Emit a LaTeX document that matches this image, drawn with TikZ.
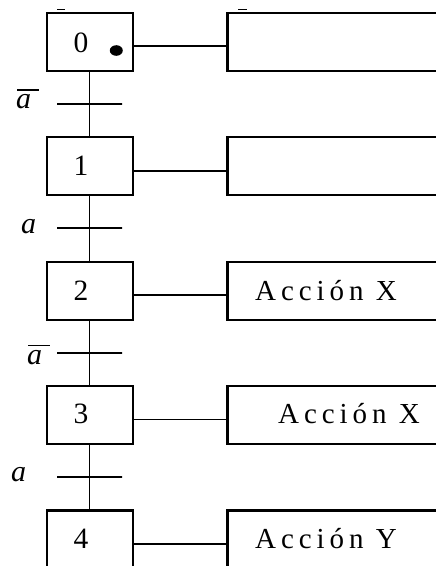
\documentclass[tikz,border=0pt]{standalone}
\usepackage{fontspec}
\setmainfont{Liberation Serif}
\newfontfamily\spacedfont[LetterSpace=17]{Liberation Serif}
\begin{document}
\begin{tikzpicture}[x=1pt,y=-1pt,
  stepbox/.style={draw,line width=2.2pt,minimum width=85.5pt,minimum height=58pt,inner sep=0pt},
  actbox/.style={draw,line width=2.2pt,minimum width=218pt,minimum height=58pt,inner sep=0pt},
  bar/.style={draw,line width=1.8pt,minimum width=65pt,minimum height=0pt,inner sep=0pt},
  num/.style={font=\fontsize{29.5}{32}\selectfont,inner sep=0pt,anchor=base},
  cond/.style={font=\fontsize{30}{32}\selectfont\itshape,inner sep=0pt,anchor=base west},
  act/.style={font=\fontsize{29}{32}\selectfont\spacedfont,inner sep=0pt,anchor=base west},
  link/.style={line width=1.8pt},
  ovl/.style={line width=1.3pt}]
\useasboundingbox (0,0) rectangle (436,566);
\clip (0,0) rectangle (436,566);
% steps
\node[stepbox] (s0) at (90,41.8) {};
\node[stepbox] (s1) at (90,166.2) {};
\node[stepbox] (s2) at (90,290.6) {};
\node[stepbox] (s3) at (90,415) {};
\node[stepbox] (s4) at (90,539.4) {};
% step numbers
\node[num] (n0) at (81,52.3) {0};
\node[num] (n1) at (81,175.3) {1};
\node[num] (n2) at (81,300.7) {2};
\node[num] (n3) at (81,423.3) {3};
\node[num] (n4) at (81,548.3) {4};
% initial mark
\fill (116.3,50.5) ellipse [x radius=6.5pt,y radius=5.3pt];
% actions
\node[actbox] (a0) at (336.5,41.8) {};
\node[actbox] (a1) at (336.5,166.2) {};
\node[actbox] (a2) at (336.5,290.6) {};
\node[actbox] (a3) at (336.5,415) {};
\node[actbox] (a4) at (336.5,539.4) {};
\node[act] (x2) at (255,300) {Acción X};
\node[act] (x3) at (278,423.3) {Acción X};
\node[act] (x4) at (255,548.3) {Acción Y};
% step-action links
\foreach \i in {0,...,4} {
  \draw[link] ([yshift=-4.5pt]s\i.east) -- ([yshift=-4.5pt]s\i.east -| a\i.west);
}
% transitions
\node[bar] (t1) at (89.5,104.3) {};
\node[bar] (t2) at (89.5,228.3) {};
\node[bar] (t3) at (89.5,352.7) {};
\node[bar] (t4) at (89.5,476.7) {};
\draw[link] (s0.south -| t1) -- (t1) -- (s1.north -| t1);
\draw[link] (s1.south -| t2) -- (t2) -- (s2.north -| t2);
\draw[link] (s2.south -| t3) -- (t3) -- (s3.north -| t3);
\draw[link] (s3.south -| t4) -- (t4) -- (s4.north -| t4);
% conditions
\node[cond] (c1) at (16,108.3) {a};
\node[cond] (c2) at (21,233.3) {a};
\node[cond] (c3) at (27,364.3) {a};
\node[cond] (c4) at (11,481.7) {a};
\draw[ovl] (17,90) -- (38.5,90);
\draw[ovl] (28,345.7) -- (49.5,345.7);
% small marks at top
\draw[line width=1.2pt] (57,9.5) -- (65,9.5);
\draw[line width=1.2pt] (238,9.5) -- (247,9.5);
\end{tikzpicture}
\end{document}
